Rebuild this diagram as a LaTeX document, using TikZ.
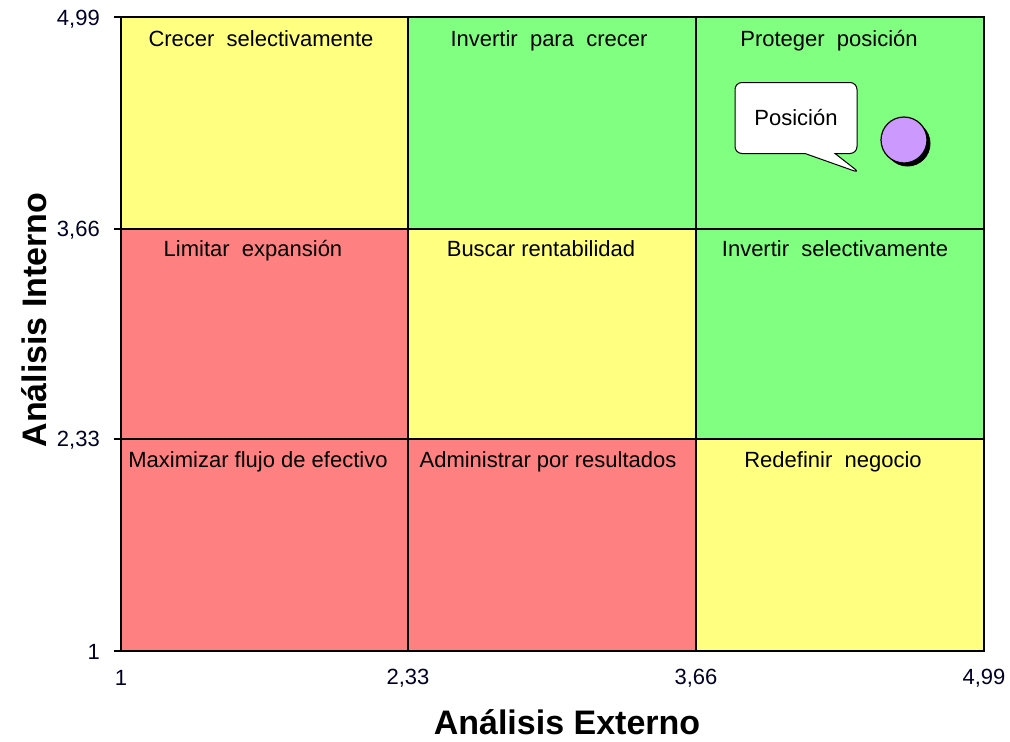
\documentclass[tikz,border=0pt]{standalone}
\usepackage{fontspec}
\setmainfont{Liberation Sans}
\usetikzlibrary{shapes.callouts,shadows}

\definecolor{amarillo}{HTML}{FFFF80}
\definecolor{verde}{HTML}{80FF80}
\definecolor{rojo}{HTML}{FF8080}
\definecolor{lila}{HTML}{CC99FF}

\tikzset{
  celda/.style={font=\fontsize{22}{26}\selectfont, anchor=base, inner sep=0pt},
  marca/.style={font=\fontsize{22}{26}\selectfont, text=black!85!blue, inner sep=0pt},
  titulo/.style={font=\bfseries\fontsize{34}{40}\selectfont, inner sep=0pt},
}

\begin{document}
\begin{tikzpicture}[x=1pt,y=-1pt]
\useasboundingbox (0,0) rectangle (1010,742);

% cuadrantes
\fill[amarillo] (121,17) rectangle (408,229);
\fill[verde] (408,17) rectangle (696,229);
\fill[verde] (696,17) rectangle (984,229);
\fill[rojo] (121,229) rectangle (408,439);
\fill[amarillo] (408,229) rectangle (696,439);
\fill[verde] (696,229) rectangle (984,439);
\fill[rojo] (121,439) rectangle (408,651);
\fill[rojo] (408,439) rectangle (696,651);
\fill[amarillo] (696,439) rectangle (984,651);

% rejilla
\draw[line width=1.2pt] (121,17) rectangle (984,651);
\draw[line width=1.2pt] (408,17) -- (408,651);
\draw[line width=1.2pt] (696,17) -- (696,651);
\draw[line width=1.2pt] (121,229) -- (984,229);
\draw[line width=1.2pt] (121,439) -- (984,439);
\draw[line width=1.2pt] (114,17) -- (121,17);
\draw[line width=1.2pt] (114,229) -- (121,229);
\draw[line width=1.2pt] (114,439) -- (121,439);
\draw[line width=1.2pt] (114,651) -- (121,651);

% textos de las celdas
\node[celda] (crecer) at (261,46) {Crecer\ \ selectivamente};
\node[celda] (invertir) at (549,46) {Invertir\ \ para\ \ crecer};
\node[celda] (proteger) at (829,46) {Proteger\ \ posición};
\node[celda] (limitar) at (253,256) {Limitar\ \ expansión};
\node[celda] (buscar) at (541,256) {Buscar rentabilidad};
\node[celda] (selectivo) at (835,256) {Invertir\ \ selectivamente};
\node[celda] (maximizar) at (258,467) {Maximizar flujo de efectivo};
\node[celda] (administrar) at (548,467) {Administrar por resultados};
\node[celda] (redefinir) at (833,467) {Redefinir\ \ negocio};

% posicion
\coordinate (punta) at (860,173);
\node[rectangle callout, draw, fill=white, line width=1pt, rounded corners=7pt,
      minimum width=122pt, minimum height=71pt,
      callout absolute pointer={(punta)}, callout pointer width=30pt,
      font=\fontsize{22}{26}\selectfont] (globo) at (796,118) {Posición};
\node[circle, draw, line width=1.2pt, fill=lila, minimum size=46pt, inner sep=0pt,
      drop shadow={shadow xshift=3.5pt, shadow yshift=-3.5pt, opacity=1, fill=black}]
      (punto) at (904,140) {};

% escalas
\node[marca, anchor=east] (y499) at (100,19) {4,99};
\node[marca, anchor=east] (y366) at (100,230) {3,66};
\node[marca, anchor=east] (y233) at (100,440) {2,33};
\node[marca, anchor=east] (y1) at (100,652) {1};
\node[marca] (x1) at (121,678) {1};
\node[marca] (x233) at (408,678) {2,33};
\node[marca] (x366) at (696,678) {3,66};
\node[marca] (x499) at (984,678) {4,99};

% titulos de ejes
\node[titulo] (externo) at (567,722) {Análisis Externo};
\node[titulo, rotate=90, anchor=base] (interno) at (46,320) {Análisis Interno};
\end{tikzpicture}
\end{document}
